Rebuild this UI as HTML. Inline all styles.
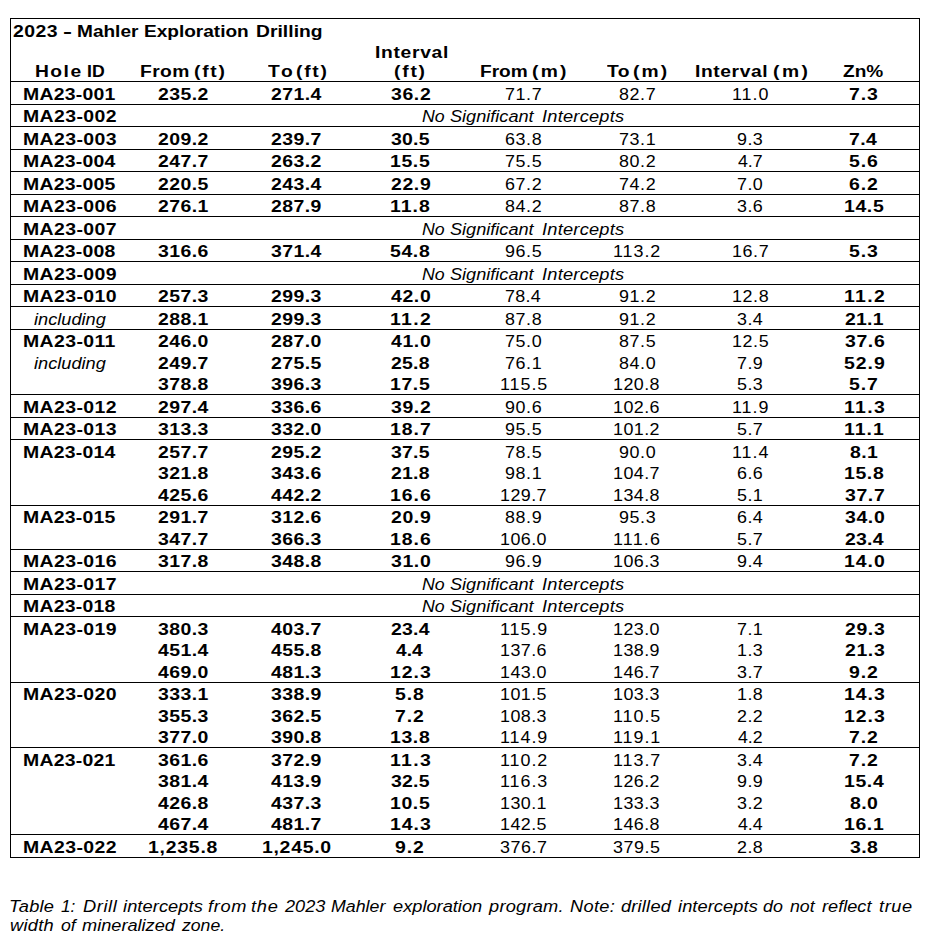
<!DOCTYPE html>
<html><head><meta charset="utf-8"><style>
html,body{margin:0;padding:0;background:#fff;}
body{width:928px;height:937px;position:relative;overflow:hidden;font-family:"Liberation Sans",sans-serif;font-size:16.90px;color:#000;}
.t{position:absolute;white-space:nowrap;line-height:20px;transform-origin:0 0;}
.b{font-weight:bold}.i{font-style:italic}
.h{position:absolute;left:10px;width:910px;height:1px;background:#000}
.v{position:absolute;top:18px;width:1px;height:840px;background:#000}
</style></head><body>

<div class="h" style="top:18px"></div>
<div class="h" style="top:81px"></div>
<div class="h" style="top:104px"></div>
<div class="h" style="top:126px"></div>
<div class="h" style="top:149px"></div>
<div class="h" style="top:171px"></div>
<div class="h" style="top:194px"></div>
<div class="h" style="top:216px"></div>
<div class="h" style="top:239px"></div>
<div class="h" style="top:261px"></div>
<div class="h" style="top:284px"></div>
<div class="h" style="top:306px"></div>
<div class="h" style="top:329px"></div>
<div class="h" style="top:394px"></div>
<div class="h" style="top:417px"></div>
<div class="h" style="top:439px"></div>
<div class="h" style="top:505px"></div>
<div class="h" style="top:549px"></div>
<div class="h" style="top:571px"></div>
<div class="h" style="top:594px"></div>
<div class="h" style="top:616px"></div>
<div class="h" style="top:682px"></div>
<div class="h" style="top:747px"></div>
<div class="h" style="top:834px"></div>
<div class="h" style="top:857px"></div>
<div class="v" style="left:10px"></div><div class="v" style="left:919px"></div>
<div class="t b" style="left:13.40px;top:22px;letter-spacing:0.420px;transform:scaleX(1.1500)">2023</div>
<div class="t b" style="left:63.20px;top:22px;transform:scaleX(1.6000)">-</div>
<div class="t b" style="left:77.47px;top:22px;letter-spacing:0.000px;transform:scaleX(1.1283)">Mahler</div>
<div class="t b" style="left:144.17px;top:22px;letter-spacing:0.000px;transform:scaleX(1.1275)">Exploration</div>
<div class="t b" style="left:255.96px;top:22px;letter-spacing:0.033px;transform:scaleX(1.1400)">Drilling</div>
<div class="t b" style="left:374.86px;top:43px;letter-spacing:0.599px;transform:scaleX(1.1400)">Interval</div>
<div class="t b" style="left:34.66px;top:62px;letter-spacing:1.287px;transform:scaleX(1.1400)">Hole</div>
<div class="t b" style="left:86.95px;top:62px;letter-spacing:0.000px;transform:scaleX(1.0467)">ID</div>
<div class="t b" style="left:140.36px;top:62px;letter-spacing:0.380px;transform:scaleX(1.1400)">From</div>
<div class="t b" style="left:193.76px;top:62px;letter-spacing:1.509px;transform:scaleX(1.1400)">(ft)</div>
<div class="t b" style="left:267.60px;top:62px;letter-spacing:2.316px;transform:scaleX(1.1400)">To</div>
<div class="t b" style="left:295.56px;top:62px;letter-spacing:1.509px;transform:scaleX(1.1400)">(ft)</div>
<div class="t b" style="left:394.46px;top:62px;letter-spacing:1.567px;transform:scaleX(1.1400)">(ft)</div>
<div class="t b" style="left:480.37px;top:62px;letter-spacing:0.000px;transform:scaleX(1.1300)">From</div>
<div class="t b" style="left:532.46px;top:62px;letter-spacing:1.974px;transform:scaleX(1.1400)">(m)</div>
<div class="t b" style="left:606.90px;top:62px;letter-spacing:0.474px;transform:scaleX(1.1400)">To</div>
<div class="t b" style="left:633.36px;top:62px;letter-spacing:1.842px;transform:scaleX(1.1400)">(m)</div>
<div class="t b" style="left:695.06px;top:62px;letter-spacing:0.524px;transform:scaleX(1.1400)">Interval</div>
<div class="t b" style="left:772.86px;top:62px;letter-spacing:2.193px;transform:scaleX(1.1400)">(m)</div>
<div class="t b" style="left:843.40px;top:62px;letter-spacing:0.000px;transform:scaleX(1.1278)">Zn%</div>
<div class="t b" style="left:22.70px;top:85px;letter-spacing:0.199px;transform:scaleX(1.1500)">MA23-001</div>
<div class="t b" style="left:157.95px;top:85px;letter-spacing:0.391px;transform:scaleX(1.1500)">235.2</div>
<div class="t b" style="left:271.45px;top:85px;letter-spacing:0.391px;transform:scaleX(1.1500)">271.4</div>
<div class="t b" style="left:390.66px;top:85px;letter-spacing:0.544px;transform:scaleX(1.1500)">36.2</div>
<div class="t" style="left:505.11px;top:85px;letter-spacing:0.567px;transform:scaleX(1.0600)">71.7</div>
<div class="t" style="left:618.61px;top:85px;letter-spacing:0.567px;transform:scaleX(1.0600)">82.7</div>
<div class="t" style="left:732.11px;top:85px;letter-spacing:0.900px;transform:scaleX(1.0600)">11.0</div>
<div class="t b" style="left:849.27px;top:85px;letter-spacing:0.805px;transform:scaleX(1.1500)">7.3</div>
<div class="t b" style="left:22.70px;top:107px;letter-spacing:0.342px;transform:scaleX(1.1500)">MA23-002</div>
<div class="t i" style="left:421.95px;top:107px;letter-spacing:0.000px;transform:scaleX(1.0500)">No</div>
<div class="t i" style="left:449.73px;top:107px;letter-spacing:-0.000px;transform:scaleX(1.0731)">Significant</div>
<div class="t i" style="left:542.42px;top:107px;letter-spacing:0.212px;transform:scaleX(1.0800)">Intercepts</div>
<div class="t b" style="left:22.70px;top:130px;letter-spacing:0.342px;transform:scaleX(1.1500)">MA23-003</div>
<div class="t b" style="left:157.95px;top:130px;letter-spacing:0.391px;transform:scaleX(1.1500)">209.2</div>
<div class="t b" style="left:271.45px;top:130px;letter-spacing:0.391px;transform:scaleX(1.1500)">239.7</div>
<div class="t b" style="left:390.66px;top:130px;letter-spacing:0.210px;transform:scaleX(1.1500)">30.5</div>
<div class="t" style="left:505.11px;top:130px;letter-spacing:0.567px;transform:scaleX(1.0600)">63.8</div>
<div class="t" style="left:618.61px;top:130px;letter-spacing:0.567px;transform:scaleX(1.0600)">73.1</div>
<div class="t" style="left:737.36px;top:130px;letter-spacing:0.399px;transform:scaleX(1.0600)">9.3</div>
<div class="t b" style="left:849.27px;top:130px;letter-spacing:0.305px;transform:scaleX(1.1500)">7.4</div>
<div class="t b" style="left:22.70px;top:152px;letter-spacing:0.199px;transform:scaleX(1.1500)">MA23-004</div>
<div class="t b" style="left:157.95px;top:152px;letter-spacing:0.391px;transform:scaleX(1.1500)">247.7</div>
<div class="t b" style="left:271.45px;top:152px;letter-spacing:0.391px;transform:scaleX(1.1500)">263.2</div>
<div class="t b" style="left:389.51px;top:152px;letter-spacing:0.544px;transform:scaleX(1.1500)">15.5</div>
<div class="t" style="left:505.11px;top:152px;letter-spacing:0.567px;transform:scaleX(1.0600)">75.5</div>
<div class="t" style="left:618.61px;top:152px;letter-spacing:0.567px;transform:scaleX(1.0600)">80.2</div>
<div class="t" style="left:738.42px;top:152px;letter-spacing:0.000px;transform:scaleX(1.0507)">4.7</div>
<div class="t b" style="left:849.27px;top:152px;letter-spacing:0.805px;transform:scaleX(1.1500)">5.6</div>
<div class="t b" style="left:22.70px;top:175px;letter-spacing:0.199px;transform:scaleX(1.1500)">MA23-005</div>
<div class="t b" style="left:157.95px;top:175px;letter-spacing:0.391px;transform:scaleX(1.1500)">220.5</div>
<div class="t b" style="left:271.45px;top:175px;letter-spacing:0.391px;transform:scaleX(1.1500)">243.4</div>
<div class="t b" style="left:390.66px;top:175px;letter-spacing:0.544px;transform:scaleX(1.1500)">22.9</div>
<div class="t" style="left:505.11px;top:175px;letter-spacing:0.567px;transform:scaleX(1.0600)">67.2</div>
<div class="t" style="left:618.61px;top:175px;letter-spacing:0.567px;transform:scaleX(1.0600)">74.2</div>
<div class="t" style="left:737.36px;top:175px;letter-spacing:0.399px;transform:scaleX(1.0600)">7.0</div>
<div class="t b" style="left:849.27px;top:175px;letter-spacing:0.805px;transform:scaleX(1.1500)">6.2</div>
<div class="t b" style="left:22.70px;top:197px;letter-spacing:0.342px;transform:scaleX(1.1500)">MA23-006</div>
<div class="t b" style="left:157.95px;top:197px;letter-spacing:0.391px;transform:scaleX(1.1500)">276.1</div>
<div class="t b" style="left:271.45px;top:197px;letter-spacing:0.391px;transform:scaleX(1.1500)">287.9</div>
<div class="t b" style="left:389.51px;top:197px;letter-spacing:0.877px;transform:scaleX(1.1500)">11.8</div>
<div class="t" style="left:505.11px;top:197px;letter-spacing:0.567px;transform:scaleX(1.0600)">84.2</div>
<div class="t" style="left:618.61px;top:197px;letter-spacing:0.567px;transform:scaleX(1.0600)">87.8</div>
<div class="t" style="left:737.36px;top:197px;letter-spacing:0.399px;transform:scaleX(1.0600)">3.6</div>
<div class="t b" style="left:843.51px;top:197px;letter-spacing:0.544px;transform:scaleX(1.1500)">14.5</div>
<div class="t b" style="left:22.70px;top:220px;letter-spacing:0.342px;transform:scaleX(1.1500)">MA23-007</div>
<div class="t i" style="left:421.95px;top:220px;letter-spacing:0.000px;transform:scaleX(1.0500)">No</div>
<div class="t i" style="left:449.73px;top:220px;letter-spacing:-0.000px;transform:scaleX(1.0731)">Significant</div>
<div class="t i" style="left:542.42px;top:220px;letter-spacing:0.212px;transform:scaleX(1.0800)">Intercepts</div>
<div class="t b" style="left:22.70px;top:242px;letter-spacing:0.199px;transform:scaleX(1.1500)">MA23-008</div>
<div class="t b" style="left:157.95px;top:242px;letter-spacing:0.391px;transform:scaleX(1.1500)">316.6</div>
<div class="t b" style="left:271.45px;top:242px;letter-spacing:0.391px;transform:scaleX(1.1500)">371.4</div>
<div class="t b" style="left:389.51px;top:242px;letter-spacing:0.544px;transform:scaleX(1.1500)">54.8</div>
<div class="t" style="left:505.11px;top:242px;letter-spacing:0.567px;transform:scaleX(1.0600)">96.5</div>
<div class="t" style="left:613.36px;top:242px;letter-spacing:0.901px;transform:scaleX(1.0600)">113.2</div>
<div class="t" style="left:732.11px;top:242px;letter-spacing:0.567px;transform:scaleX(1.0600)">16.7</div>
<div class="t b" style="left:849.27px;top:242px;letter-spacing:0.805px;transform:scaleX(1.1500)">5.3</div>
<div class="t b" style="left:22.70px;top:265px;letter-spacing:0.342px;transform:scaleX(1.1500)">MA23-009</div>
<div class="t i" style="left:421.95px;top:265px;letter-spacing:0.000px;transform:scaleX(1.0500)">No</div>
<div class="t i" style="left:449.73px;top:265px;letter-spacing:-0.000px;transform:scaleX(1.0731)">Significant</div>
<div class="t i" style="left:542.42px;top:265px;letter-spacing:0.212px;transform:scaleX(1.0800)">Intercepts</div>
<div class="t b" style="left:22.70px;top:287px;letter-spacing:0.342px;transform:scaleX(1.1500)">MA23-010</div>
<div class="t b" style="left:157.95px;top:287px;letter-spacing:0.391px;transform:scaleX(1.1500)">257.3</div>
<div class="t b" style="left:271.45px;top:287px;letter-spacing:0.391px;transform:scaleX(1.1500)">299.3</div>
<div class="t b" style="left:390.66px;top:287px;letter-spacing:0.544px;transform:scaleX(1.1500)">42.0</div>
<div class="t" style="left:505.11px;top:287px;letter-spacing:0.233px;transform:scaleX(1.0600)">78.4</div>
<div class="t" style="left:618.61px;top:287px;letter-spacing:0.567px;transform:scaleX(1.0600)">91.2</div>
<div class="t" style="left:732.11px;top:287px;letter-spacing:0.567px;transform:scaleX(1.0600)">12.8</div>
<div class="t b" style="left:843.51px;top:287px;letter-spacing:1.210px;transform:scaleX(1.1500)">11.2</div>
<div class="t i" style="left:33.70px;top:310px;letter-spacing:0.000px;transform:scaleX(1.0776)">including</div>
<div class="t b" style="left:157.95px;top:310px;letter-spacing:0.391px;transform:scaleX(1.1500)">288.1</div>
<div class="t b" style="left:271.45px;top:310px;letter-spacing:0.391px;transform:scaleX(1.1500)">299.3</div>
<div class="t b" style="left:389.51px;top:310px;letter-spacing:1.210px;transform:scaleX(1.1500)">11.2</div>
<div class="t" style="left:505.11px;top:310px;letter-spacing:0.567px;transform:scaleX(1.0600)">87.8</div>
<div class="t" style="left:618.61px;top:310px;letter-spacing:0.567px;transform:scaleX(1.0600)">91.2</div>
<div class="t" style="left:737.36px;top:310px;letter-spacing:0.399px;transform:scaleX(1.0600)">3.4</div>
<div class="t b" style="left:844.66px;top:310px;letter-spacing:0.210px;transform:scaleX(1.1500)">21.1</div>
<div class="t b" style="left:22.70px;top:332px;letter-spacing:0.342px;transform:scaleX(1.1500)">MA23-011</div>
<div class="t b" style="left:157.95px;top:332px;letter-spacing:0.391px;transform:scaleX(1.1500)">246.0</div>
<div class="t b" style="left:271.45px;top:332px;letter-spacing:0.391px;transform:scaleX(1.1500)">287.0</div>
<div class="t b" style="left:390.66px;top:332px;letter-spacing:0.544px;transform:scaleX(1.1500)">41.0</div>
<div class="t" style="left:505.11px;top:332px;letter-spacing:0.567px;transform:scaleX(1.0600)">75.0</div>
<div class="t" style="left:618.61px;top:332px;letter-spacing:0.567px;transform:scaleX(1.0600)">87.5</div>
<div class="t" style="left:732.11px;top:332px;letter-spacing:0.567px;transform:scaleX(1.0600)">12.5</div>
<div class="t b" style="left:844.66px;top:332px;letter-spacing:0.544px;transform:scaleX(1.1500)">37.6</div>
<div class="t i" style="left:33.70px;top:354px;letter-spacing:0.000px;transform:scaleX(1.0776)">including</div>
<div class="t b" style="left:157.95px;top:354px;letter-spacing:0.391px;transform:scaleX(1.1500)">249.7</div>
<div class="t b" style="left:271.45px;top:354px;letter-spacing:0.391px;transform:scaleX(1.1500)">275.5</div>
<div class="t b" style="left:390.66px;top:354px;letter-spacing:0.210px;transform:scaleX(1.1500)">25.8</div>
<div class="t" style="left:505.11px;top:354px;letter-spacing:0.567px;transform:scaleX(1.0600)">76.1</div>
<div class="t" style="left:618.61px;top:354px;letter-spacing:0.567px;transform:scaleX(1.0600)">84.0</div>
<div class="t" style="left:737.36px;top:354px;letter-spacing:0.399px;transform:scaleX(1.0600)">7.9</div>
<div class="t b" style="left:843.51px;top:354px;letter-spacing:0.877px;transform:scaleX(1.1500)">52.9</div>
<div class="t b" style="left:157.95px;top:375px;letter-spacing:0.391px;transform:scaleX(1.1500)">378.8</div>
<div class="t b" style="left:271.45px;top:375px;letter-spacing:0.391px;transform:scaleX(1.1500)">396.3</div>
<div class="t b" style="left:389.51px;top:375px;letter-spacing:0.544px;transform:scaleX(1.1500)">17.5</div>
<div class="t" style="left:499.86px;top:375px;letter-spacing:0.901px;transform:scaleX(1.0600)">115.5</div>
<div class="t" style="left:613.36px;top:375px;letter-spacing:0.401px;transform:scaleX(1.0600)">120.8</div>
<div class="t" style="left:737.36px;top:375px;letter-spacing:0.399px;transform:scaleX(1.0600)">5.3</div>
<div class="t b" style="left:849.27px;top:375px;letter-spacing:0.805px;transform:scaleX(1.1500)">5.7</div>
<div class="t b" style="left:22.70px;top:398px;letter-spacing:0.342px;transform:scaleX(1.1500)">MA23-012</div>
<div class="t b" style="left:157.95px;top:398px;letter-spacing:0.391px;transform:scaleX(1.1500)">297.4</div>
<div class="t b" style="left:271.45px;top:398px;letter-spacing:0.391px;transform:scaleX(1.1500)">336.6</div>
<div class="t b" style="left:390.66px;top:398px;letter-spacing:0.544px;transform:scaleX(1.1500)">39.2</div>
<div class="t" style="left:505.11px;top:398px;letter-spacing:0.567px;transform:scaleX(1.0600)">90.6</div>
<div class="t" style="left:613.36px;top:398px;letter-spacing:0.401px;transform:scaleX(1.0600)">102.6</div>
<div class="t" style="left:732.11px;top:398px;letter-spacing:0.900px;transform:scaleX(1.0600)">11.9</div>
<div class="t b" style="left:843.51px;top:398px;letter-spacing:1.210px;transform:scaleX(1.1500)">11.3</div>
<div class="t b" style="left:22.70px;top:420px;letter-spacing:0.342px;transform:scaleX(1.1500)">MA23-013</div>
<div class="t b" style="left:157.95px;top:420px;letter-spacing:0.391px;transform:scaleX(1.1500)">313.3</div>
<div class="t b" style="left:271.45px;top:420px;letter-spacing:0.391px;transform:scaleX(1.1500)">332.0</div>
<div class="t b" style="left:389.51px;top:420px;letter-spacing:0.877px;transform:scaleX(1.1500)">18.7</div>
<div class="t" style="left:505.11px;top:420px;letter-spacing:0.567px;transform:scaleX(1.0600)">95.5</div>
<div class="t" style="left:613.36px;top:420px;letter-spacing:0.401px;transform:scaleX(1.0600)">101.2</div>
<div class="t" style="left:737.36px;top:420px;letter-spacing:0.399px;transform:scaleX(1.0600)">5.7</div>
<div class="t b" style="left:843.51px;top:420px;letter-spacing:0.877px;transform:scaleX(1.1500)">11.1</div>
<div class="t b" style="left:22.70px;top:443px;letter-spacing:0.199px;transform:scaleX(1.1500)">MA23-014</div>
<div class="t b" style="left:157.95px;top:443px;letter-spacing:0.391px;transform:scaleX(1.1500)">257.7</div>
<div class="t b" style="left:271.45px;top:443px;letter-spacing:0.391px;transform:scaleX(1.1500)">295.2</div>
<div class="t b" style="left:390.66px;top:443px;letter-spacing:0.210px;transform:scaleX(1.1500)">37.5</div>
<div class="t" style="left:505.11px;top:443px;letter-spacing:0.567px;transform:scaleX(1.0600)">78.5</div>
<div class="t" style="left:618.61px;top:443px;letter-spacing:0.567px;transform:scaleX(1.0600)">90.0</div>
<div class="t" style="left:732.11px;top:443px;letter-spacing:0.900px;transform:scaleX(1.0600)">11.4</div>
<div class="t b" style="left:850.42px;top:443px;letter-spacing:0.305px;transform:scaleX(1.1500)">8.1</div>
<div class="t b" style="left:157.95px;top:464px;letter-spacing:0.391px;transform:scaleX(1.1500)">321.8</div>
<div class="t b" style="left:271.45px;top:464px;letter-spacing:0.391px;transform:scaleX(1.1500)">343.6</div>
<div class="t b" style="left:390.66px;top:464px;letter-spacing:0.210px;transform:scaleX(1.1500)">21.8</div>
<div class="t" style="left:505.11px;top:464px;letter-spacing:0.567px;transform:scaleX(1.0600)">98.1</div>
<div class="t" style="left:613.36px;top:464px;letter-spacing:0.401px;transform:scaleX(1.0600)">104.7</div>
<div class="t" style="left:737.36px;top:464px;letter-spacing:0.399px;transform:scaleX(1.0600)">6.6</div>
<div class="t b" style="left:843.51px;top:464px;letter-spacing:0.544px;transform:scaleX(1.1500)">15.8</div>
<div class="t b" style="left:157.95px;top:486px;letter-spacing:0.391px;transform:scaleX(1.1500)">425.6</div>
<div class="t b" style="left:271.45px;top:486px;letter-spacing:0.391px;transform:scaleX(1.1500)">442.2</div>
<div class="t b" style="left:389.51px;top:486px;letter-spacing:0.877px;transform:scaleX(1.1500)">16.6</div>
<div class="t" style="left:499.86px;top:486px;letter-spacing:0.401px;transform:scaleX(1.0600)">129.7</div>
<div class="t" style="left:613.36px;top:486px;letter-spacing:0.401px;transform:scaleX(1.0600)">134.8</div>
<div class="t" style="left:737.36px;top:486px;letter-spacing:0.399px;transform:scaleX(1.0600)">5.1</div>
<div class="t b" style="left:844.66px;top:486px;letter-spacing:0.544px;transform:scaleX(1.1500)">37.7</div>
<div class="t b" style="left:22.70px;top:508px;letter-spacing:0.199px;transform:scaleX(1.1500)">MA23-015</div>
<div class="t b" style="left:157.95px;top:508px;letter-spacing:0.391px;transform:scaleX(1.1500)">291.7</div>
<div class="t b" style="left:271.45px;top:508px;letter-spacing:0.391px;transform:scaleX(1.1500)">312.6</div>
<div class="t b" style="left:390.66px;top:508px;letter-spacing:0.544px;transform:scaleX(1.1500)">20.9</div>
<div class="t" style="left:505.11px;top:508px;letter-spacing:0.567px;transform:scaleX(1.0600)">88.9</div>
<div class="t" style="left:618.61px;top:508px;letter-spacing:0.567px;transform:scaleX(1.0600)">95.3</div>
<div class="t" style="left:737.36px;top:508px;letter-spacing:0.399px;transform:scaleX(1.0600)">6.4</div>
<div class="t b" style="left:844.66px;top:508px;letter-spacing:0.544px;transform:scaleX(1.1500)">34.0</div>
<div class="t b" style="left:157.95px;top:530px;letter-spacing:0.391px;transform:scaleX(1.1500)">347.7</div>
<div class="t b" style="left:271.45px;top:530px;letter-spacing:0.391px;transform:scaleX(1.1500)">366.3</div>
<div class="t b" style="left:389.51px;top:530px;letter-spacing:0.877px;transform:scaleX(1.1500)">18.6</div>
<div class="t" style="left:499.86px;top:530px;letter-spacing:0.401px;transform:scaleX(1.0600)">106.0</div>
<div class="t" style="left:613.36px;top:530px;letter-spacing:1.151px;transform:scaleX(1.0600)">111.6</div>
<div class="t" style="left:737.36px;top:530px;letter-spacing:0.399px;transform:scaleX(1.0600)">5.7</div>
<div class="t b" style="left:844.66px;top:530px;letter-spacing:0.210px;transform:scaleX(1.1500)">23.4</div>
<div class="t b" style="left:22.70px;top:552px;letter-spacing:0.342px;transform:scaleX(1.1500)">MA23-016</div>
<div class="t b" style="left:157.95px;top:552px;letter-spacing:0.391px;transform:scaleX(1.1500)">317.8</div>
<div class="t b" style="left:271.45px;top:552px;letter-spacing:0.391px;transform:scaleX(1.1500)">348.8</div>
<div class="t b" style="left:390.66px;top:552px;letter-spacing:0.544px;transform:scaleX(1.1500)">31.0</div>
<div class="t" style="left:505.11px;top:552px;letter-spacing:0.567px;transform:scaleX(1.0600)">96.9</div>
<div class="t" style="left:613.36px;top:552px;letter-spacing:0.401px;transform:scaleX(1.0600)">106.3</div>
<div class="t" style="left:737.36px;top:552px;letter-spacing:0.399px;transform:scaleX(1.0600)">9.4</div>
<div class="t b" style="left:843.51px;top:552px;letter-spacing:0.877px;transform:scaleX(1.1500)">14.0</div>
<div class="t b" style="left:22.70px;top:575px;letter-spacing:0.342px;transform:scaleX(1.1500)">MA23-017</div>
<div class="t i" style="left:421.95px;top:575px;letter-spacing:0.000px;transform:scaleX(1.0500)">No</div>
<div class="t i" style="left:449.73px;top:575px;letter-spacing:-0.000px;transform:scaleX(1.0731)">Significant</div>
<div class="t i" style="left:542.42px;top:575px;letter-spacing:0.212px;transform:scaleX(1.0800)">Intercepts</div>
<div class="t b" style="left:22.70px;top:597px;letter-spacing:0.199px;transform:scaleX(1.1500)">MA23-018</div>
<div class="t i" style="left:421.95px;top:597px;letter-spacing:0.000px;transform:scaleX(1.0500)">No</div>
<div class="t i" style="left:449.73px;top:597px;letter-spacing:-0.000px;transform:scaleX(1.0731)">Significant</div>
<div class="t i" style="left:542.42px;top:597px;letter-spacing:0.212px;transform:scaleX(1.0800)">Intercepts</div>
<div class="t b" style="left:22.70px;top:620px;letter-spacing:0.342px;transform:scaleX(1.1500)">MA23-019</div>
<div class="t b" style="left:157.95px;top:620px;letter-spacing:0.391px;transform:scaleX(1.1500)">380.3</div>
<div class="t b" style="left:271.45px;top:620px;letter-spacing:0.391px;transform:scaleX(1.1500)">403.7</div>
<div class="t b" style="left:390.66px;top:620px;letter-spacing:0.210px;transform:scaleX(1.1500)">23.4</div>
<div class="t" style="left:499.86px;top:620px;letter-spacing:0.901px;transform:scaleX(1.0600)">115.9</div>
<div class="t" style="left:613.36px;top:620px;letter-spacing:0.401px;transform:scaleX(1.0600)">123.0</div>
<div class="t" style="left:737.36px;top:620px;letter-spacing:0.399px;transform:scaleX(1.0600)">7.1</div>
<div class="t b" style="left:844.66px;top:620px;letter-spacing:0.544px;transform:scaleX(1.1500)">29.3</div>
<div class="t b" style="left:157.95px;top:641px;letter-spacing:0.391px;transform:scaleX(1.1500)">451.4</div>
<div class="t b" style="left:271.45px;top:641px;letter-spacing:0.391px;transform:scaleX(1.1500)">455.8</div>
<div class="t b" style="left:396.42px;top:641px;letter-spacing:0.000px;transform:scaleX(1.1313)">4.4</div>
<div class="t" style="left:499.86px;top:641px;letter-spacing:0.401px;transform:scaleX(1.0600)">137.6</div>
<div class="t" style="left:613.36px;top:641px;letter-spacing:0.401px;transform:scaleX(1.0600)">138.9</div>
<div class="t" style="left:737.36px;top:641px;letter-spacing:0.399px;transform:scaleX(1.0600)">1.3</div>
<div class="t b" style="left:844.66px;top:641px;letter-spacing:0.544px;transform:scaleX(1.1500)">21.3</div>
<div class="t b" style="left:157.95px;top:663px;letter-spacing:0.391px;transform:scaleX(1.1500)">469.0</div>
<div class="t b" style="left:271.45px;top:663px;letter-spacing:0.391px;transform:scaleX(1.1500)">481.3</div>
<div class="t b" style="left:389.51px;top:663px;letter-spacing:0.877px;transform:scaleX(1.1500)">12.3</div>
<div class="t" style="left:499.86px;top:663px;letter-spacing:0.401px;transform:scaleX(1.0600)">143.0</div>
<div class="t" style="left:613.36px;top:663px;letter-spacing:0.401px;transform:scaleX(1.0600)">146.7</div>
<div class="t" style="left:737.36px;top:663px;letter-spacing:0.399px;transform:scaleX(1.0600)">3.7</div>
<div class="t b" style="left:849.27px;top:663px;letter-spacing:0.805px;transform:scaleX(1.1500)">9.2</div>
<div class="t b" style="left:22.70px;top:685px;letter-spacing:0.342px;transform:scaleX(1.1500)">MA23-020</div>
<div class="t b" style="left:157.95px;top:685px;letter-spacing:0.391px;transform:scaleX(1.1500)">333.1</div>
<div class="t b" style="left:271.45px;top:685px;letter-spacing:0.391px;transform:scaleX(1.1500)">338.9</div>
<div class="t b" style="left:395.27px;top:685px;letter-spacing:0.805px;transform:scaleX(1.1500)">5.8</div>
<div class="t" style="left:499.86px;top:685px;letter-spacing:0.401px;transform:scaleX(1.0600)">101.5</div>
<div class="t" style="left:613.36px;top:685px;letter-spacing:0.401px;transform:scaleX(1.0600)">103.3</div>
<div class="t" style="left:737.36px;top:685px;letter-spacing:0.399px;transform:scaleX(1.0600)">1.8</div>
<div class="t b" style="left:843.51px;top:685px;letter-spacing:0.877px;transform:scaleX(1.1500)">14.3</div>
<div class="t b" style="left:157.95px;top:707px;letter-spacing:0.391px;transform:scaleX(1.1500)">355.3</div>
<div class="t b" style="left:271.45px;top:707px;letter-spacing:0.391px;transform:scaleX(1.1500)">362.5</div>
<div class="t b" style="left:395.27px;top:707px;letter-spacing:0.805px;transform:scaleX(1.1500)">7.2</div>
<div class="t" style="left:499.86px;top:707px;letter-spacing:0.401px;transform:scaleX(1.0600)">108.3</div>
<div class="t" style="left:613.36px;top:707px;letter-spacing:0.901px;transform:scaleX(1.0600)">110.5</div>
<div class="t" style="left:737.36px;top:707px;letter-spacing:0.399px;transform:scaleX(1.0600)">2.2</div>
<div class="t b" style="left:843.51px;top:707px;letter-spacing:0.877px;transform:scaleX(1.1500)">12.3</div>
<div class="t b" style="left:157.95px;top:728px;letter-spacing:0.391px;transform:scaleX(1.1500)">377.0</div>
<div class="t b" style="left:271.45px;top:728px;letter-spacing:0.391px;transform:scaleX(1.1500)">390.8</div>
<div class="t b" style="left:389.51px;top:728px;letter-spacing:0.544px;transform:scaleX(1.1500)">13.8</div>
<div class="t" style="left:499.86px;top:728px;letter-spacing:0.901px;transform:scaleX(1.0600)">114.9</div>
<div class="t" style="left:613.36px;top:728px;letter-spacing:0.901px;transform:scaleX(1.0600)">119.1</div>
<div class="t" style="left:738.42px;top:728px;letter-spacing:0.000px;transform:scaleX(1.0507)">4.2</div>
<div class="t b" style="left:849.27px;top:728px;letter-spacing:0.805px;transform:scaleX(1.1500)">7.2</div>
<div class="t b" style="left:22.70px;top:751px;letter-spacing:0.199px;transform:scaleX(1.1500)">MA23-021</div>
<div class="t b" style="left:157.95px;top:751px;letter-spacing:0.391px;transform:scaleX(1.1500)">361.6</div>
<div class="t b" style="left:271.45px;top:751px;letter-spacing:0.391px;transform:scaleX(1.1500)">372.9</div>
<div class="t b" style="left:389.51px;top:751px;letter-spacing:1.210px;transform:scaleX(1.1500)">11.3</div>
<div class="t" style="left:499.86px;top:751px;letter-spacing:0.901px;transform:scaleX(1.0600)">110.2</div>
<div class="t" style="left:613.36px;top:751px;letter-spacing:0.901px;transform:scaleX(1.0600)">113.7</div>
<div class="t" style="left:737.36px;top:751px;letter-spacing:0.399px;transform:scaleX(1.0600)">3.4</div>
<div class="t b" style="left:849.27px;top:751px;letter-spacing:0.805px;transform:scaleX(1.1500)">7.2</div>
<div class="t b" style="left:157.95px;top:772px;letter-spacing:0.391px;transform:scaleX(1.1500)">381.4</div>
<div class="t b" style="left:271.45px;top:772px;letter-spacing:0.391px;transform:scaleX(1.1500)">413.9</div>
<div class="t b" style="left:390.66px;top:772px;letter-spacing:0.210px;transform:scaleX(1.1500)">32.5</div>
<div class="t" style="left:499.86px;top:772px;letter-spacing:0.901px;transform:scaleX(1.0600)">116.3</div>
<div class="t" style="left:613.36px;top:772px;letter-spacing:0.401px;transform:scaleX(1.0600)">126.2</div>
<div class="t" style="left:737.36px;top:772px;letter-spacing:0.399px;transform:scaleX(1.0600)">9.9</div>
<div class="t b" style="left:843.51px;top:772px;letter-spacing:0.544px;transform:scaleX(1.1500)">15.4</div>
<div class="t b" style="left:157.95px;top:794px;letter-spacing:0.391px;transform:scaleX(1.1500)">426.8</div>
<div class="t b" style="left:271.45px;top:794px;letter-spacing:0.391px;transform:scaleX(1.1500)">437.3</div>
<div class="t b" style="left:389.51px;top:794px;letter-spacing:0.544px;transform:scaleX(1.1500)">10.5</div>
<div class="t" style="left:499.86px;top:794px;letter-spacing:0.401px;transform:scaleX(1.0600)">130.1</div>
<div class="t" style="left:613.36px;top:794px;letter-spacing:0.401px;transform:scaleX(1.0600)">133.3</div>
<div class="t" style="left:737.36px;top:794px;letter-spacing:0.399px;transform:scaleX(1.0600)">3.2</div>
<div class="t b" style="left:850.42px;top:794px;letter-spacing:0.305px;transform:scaleX(1.1500)">8.0</div>
<div class="t b" style="left:157.95px;top:815px;letter-spacing:0.391px;transform:scaleX(1.1500)">467.4</div>
<div class="t b" style="left:271.45px;top:815px;letter-spacing:0.391px;transform:scaleX(1.1500)">481.7</div>
<div class="t b" style="left:389.51px;top:815px;letter-spacing:0.877px;transform:scaleX(1.1500)">14.3</div>
<div class="t" style="left:499.86px;top:815px;letter-spacing:0.401px;transform:scaleX(1.0600)">142.5</div>
<div class="t" style="left:613.36px;top:815px;letter-spacing:0.401px;transform:scaleX(1.0600)">146.8</div>
<div class="t" style="left:738.42px;top:815px;letter-spacing:0.000px;transform:scaleX(1.0507)">4.4</div>
<div class="t b" style="left:843.51px;top:815px;letter-spacing:0.544px;transform:scaleX(1.1500)">16.1</div>
<div class="t b" style="left:22.70px;top:838px;letter-spacing:0.342px;transform:scaleX(1.1500)">MA23-022</div>
<div class="t b" style="left:147.95px;top:838px;letter-spacing:0.659px;transform:scaleX(1.1500)">1,235.8</div>
<div class="t b" style="left:261.60px;top:838px;letter-spacing:0.616px;transform:scaleX(1.1500)">1,245.0</div>
<div class="t b" style="left:395.27px;top:838px;letter-spacing:0.805px;transform:scaleX(1.1500)">9.2</div>
<div class="t" style="left:499.64px;top:838px;letter-spacing:0.505px;transform:scaleX(1.0600)">376.7</div>
<div class="t" style="left:613.19px;top:838px;letter-spacing:0.481px;transform:scaleX(1.0600)">379.5</div>
<div class="t" style="left:737.36px;top:838px;letter-spacing:0.399px;transform:scaleX(1.0600)">2.8</div>
<div class="t b" style="left:850.42px;top:838px;letter-spacing:0.305px;transform:scaleX(1.1500)">3.8</div>
<div class="t i" style="left:9.04px;top:897px;letter-spacing:0.245px;transform:scaleX(1.0800)">Table</div>
<div class="t i" style="left:61.00px;top:897px;letter-spacing:0.000px;transform:scaleX(1.0143)">1:</div>
<div class="t i" style="left:82.52px;top:897px;letter-spacing:0.551px;transform:scaleX(1.0800)">Drill</div>
<div class="t i" style="left:122.50px;top:897px;letter-spacing:0.078px;transform:scaleX(1.0800)">intercepts</div>
<div class="t i" style="left:207.72px;top:897px;letter-spacing:0.599px;transform:scaleX(1.0800)">from</div>
<div class="t i" style="left:251.32px;top:897px;letter-spacing:0.667px;transform:scaleX(1.0800)">the</div>
<div class="t i" style="left:284.50px;top:897px;letter-spacing:0.000px;transform:scaleX(1.0737)">2023</div>
<div class="t i" style="left:330.65px;top:897px;letter-spacing:0.000px;transform:scaleX(1.0529)">Mahler</div>
<div class="t i" style="left:392.80px;top:897px;letter-spacing:0.000px;transform:scaleX(1.0793)">exploration</div>
<div class="t i" style="left:489.20px;top:897px;letter-spacing:0.214px;transform:scaleX(1.0800)">program.</div>
<div class="t i" style="left:569.72px;top:897px;letter-spacing:0.273px;transform:scaleX(1.0800)">Note:</div>
<div class="t i" style="left:620.82px;top:897px;letter-spacing:0.185px;transform:scaleX(1.0800)">drilled</div>
<div class="t i" style="left:678.40px;top:897px;letter-spacing:0.068px;transform:scaleX(1.0800)">intercepts</div>
<div class="t i" style="left:763.44px;top:897px;letter-spacing:0.000px;transform:scaleX(1.0556)">do</div>
<div class="t i" style="left:790.40px;top:897px;letter-spacing:0.000px;transform:scaleX(1.0500)">not</div>
<div class="t i" style="left:822.10px;top:897px;letter-spacing:0.000px;transform:scaleX(1.0745)">reflect</div>
<div class="t i" style="left:878.92px;top:897px;letter-spacing:0.543px;transform:scaleX(1.0800)">true</div>
<div class="t i" style="left:10.12px;top:916px;letter-spacing:0.245px;transform:scaleX(1.0800)">width</div>
<div class="t i" style="left:61.00px;top:916px;letter-spacing:0.000px;transform:scaleX(1.0500)">of</div>
<div class="t i" style="left:82.40px;top:916px;letter-spacing:0.000px;transform:scaleX(1.0759)">mineralized</div>
<div class="t i" style="left:181.80px;top:916px;letter-spacing:0.000px;transform:scaleX(1.0436)">zone.</div>
</body></html>
